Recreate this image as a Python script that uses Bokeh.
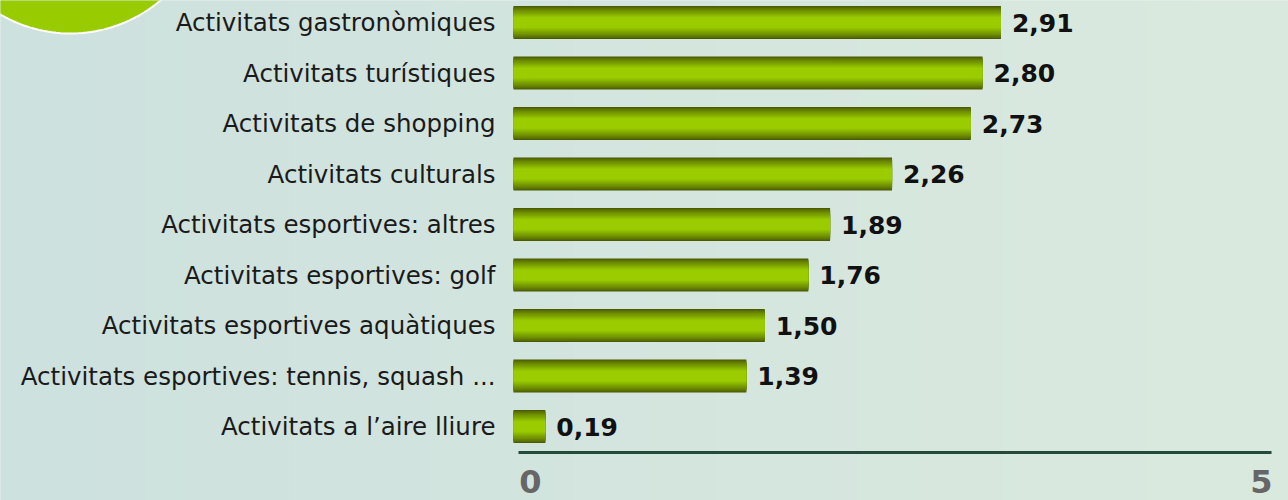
import numpy as np
from bokeh.plotting import figure
from bokeh.models import Range1d, ColumnDataSource
from bokeh.embed import file_html
from bokeh.resources import INLINE
from bokeh.core.properties import value

# ---- data ----
categories = [
    "Activitats gastronòmiques",
    "Activitats turístiques",
    "Activitats de shopping",
    "Activitats culturals",
    "Activitats esportives: altres",
    "Activitats esportives: golf",
    "Activitats esportives aquàtiques",
    "Activitats esportives: tennis, squash ...",
    "Activitats a l\u2019aire lliure",
]
values = [2.91, 2.80, 2.73, 2.26, 1.89, 1.76, 1.50, 1.39, 0.19]
axis_ticks = [0, 5]
axis_tick_labels = ["0", "5"]

n = len(categories)
ypos = [n - 1 - i for i in range(n)]
labels = [f"{v:.2f}".replace(".", ",") for v in values]
src = ColumnDataSource(dict(y=ypos, v=values, lbl=labels, cat=categories))

# ---- geometry / scales ----
W, H = 1288, 500
px_per_x = 167.5
x0_px = 513
x_start = -x0_px / px_per_x
x_end = (W - x0_px) / px_per_x
px_per_y = 50.5
y_end = (n - 1) + 22 / px_per_y
y_start = y_end - H / px_per_y

p = figure(width=W, height=H, x_range=Range1d(x_start, x_end),
           y_range=Range1d(y_start, y_end),
           x_axis_type=None, y_axis_type=None,
           toolbar_location=None, output_backend="svg",
           min_border=0)
p.background_fill_color = "#d3e5e0"
p.border_fill_color = "#d3e5e0"
p.outline_line_color = None
p.xgrid.visible = False
p.ygrid.visible = False

# background horizontal gradient
left = np.array([0xcd, 0xe1, 0xdf], dtype=float)
right = np.array([0xdb, 0xea, 0xde], dtype=float)
ncol = 128
img = np.zeros((1, ncol), dtype=np.uint32)
view = img.view(dtype=np.uint8).reshape((1, ncol, 4))
for j in range(ncol):
    t = j / (ncol - 1)
    c = left + (right - left) * t
    view[0, j, 0:3] = c.astype(np.uint8)
    view[0, j, 3] = 255
p.image_rgba(image=[img], x=x_start - 0.05, y=y_start - 0.05,
             dw=x_end - x_start + 0.1, dh=y_end - y_start + 0.1)

# decorative circle top-left
ang = np.linspace(0, 2 * np.pi, 200)
cx_px, cy_px, r_px = 70, -106, 139
p.patch(x=list((cx_px - x0_px + r_px * np.cos(ang)) / px_per_x),
        y=list(y_end - (cy_px + r_px * np.sin(ang)) / px_per_y),
        fill_color="#99cc00", line_color="white", line_width=2)

# gradient bars (layered)
bar_h = 33 / px_per_y
dark = np.array([0x4a, 0x5b, 0x00], dtype=float)
bright = np.array([0x9a, 0xcc, 0x00], dtype=float)
nl = 12
for k in range(nl):
    t = k / (nl - 1)
    tt = t ** 0.8
    c = dark + (bright - dark) * tt
    col = "#%02x%02x%02x" % tuple(int(round(x)) for x in c)
    h = bar_h * (1 - 0.062 * k)
    p.hbar(y="y", left=0, right="v", height=h, source=src,
           fill_color=col, line_color=None)

# value labels
p.text(x="v", y="y", text="lbl", source=src, x_offset=11,
       text_font=value("DejaVu Sans"), text_font_style="bold",
       text_font_size="25px", text_color="#111111", text_baseline="middle",
       text_align="left")

# category labels
p.text(x=0, y="y", text="cat", source=src, x_offset=-18,
       text_font=value("DejaVu Sans"), text_font_size="24.5px",
       text_color="#1a1a1a", text_baseline="middle", text_align="right")

# bottom axis (own scale: tick 0 at px 530, tick 5 at px 1261)
ax0, ax5 = 530, 1261
ppu = (ax5 - ax0) / 5
p.extra_x_ranges = {"ax": Range1d(-ax0 / ppu, 5 + (W - ax5) / ppu)}
axis_y = y_end - 452 / px_per_y
p.segment(x0=[(518 - ax0) / ppu], x1=[5 + (1271 - ax5) / ppu],
          y0=[axis_y], y1=[axis_y], x_range_name="ax",
          line_color="#234a3a", line_width=3)
p.text(x=axis_ticks, y=[axis_y] * len(axis_ticks), text=axis_tick_labels,
       x_range_name="ax", y_offset=29,
       text_font=value("DejaVu Sans"), text_font_style="bold",
       text_font_size="32px", text_color="#666666",
       text_align="center", text_baseline="middle")

open("out.html", "w").write(file_html(p, INLINE))
